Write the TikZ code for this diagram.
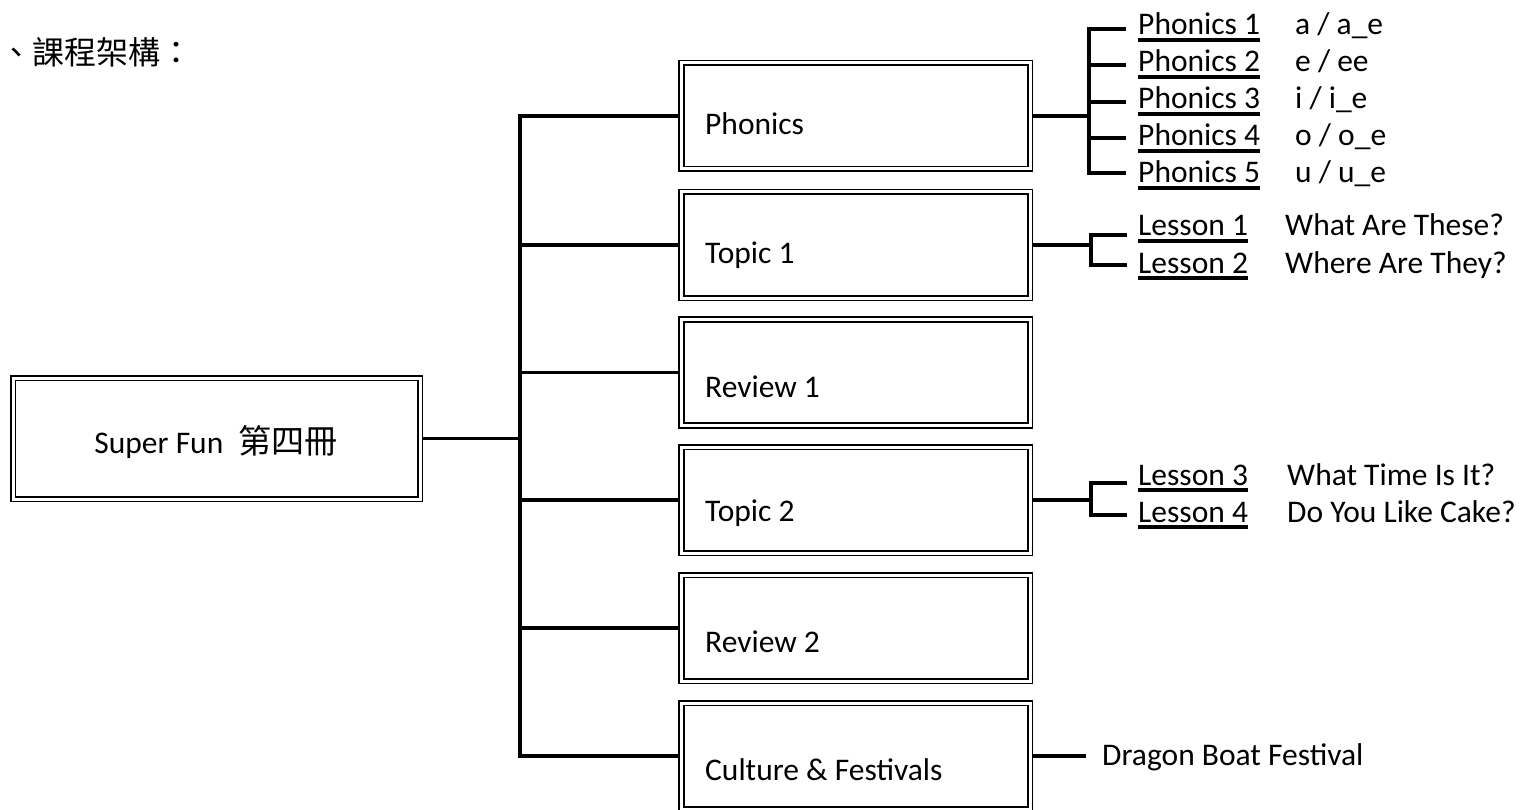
\documentclass[tikz,border=0pt]{standalone}
\usepackage{fontspec}
\setmainfont{Carlito}
\newfontfamily\cjk[Scale=1.05]{Noto Sans CJK TC}
\newcommand\ulx[1]{\setbox0\hbox{#1}\rlap{\vrule height -3.2pt depth 6.8pt width \wd0}\box0}
\begin{document}
\begin{tikzpicture}[x=1pt,y=-1pt,
  font=\fontsize{31.5}{38}\selectfont,
  box/.style={draw, double, double distance=3pt, line width=1.8pt,
    minimum width=348.5pt, minimum height=106pt, inner sep=0pt, outer sep=3.3pt},
  rootbox/.style={box, minimum width=407pt, minimum height=121pt},
  conn/.style={line width=3.6pt},
  txt/.style={inner sep=0pt, anchor=base west}]
\useasboundingbox (0,0) rectangle (1520,810);

% title
\node[txt] (title) at (0,65) {\fontsize{30.5}{38}\selectfont\cjk 、課程架構：};

% root
\node[rootbox] (root) at (216.5,438.5) {};
\node[inner sep=0pt, anchor=base] (roottxt) at (216,453) {Super Fun\hspace{15pt}{\cjk 第四冊}};

% boxes
\node[box] (b1) at (855.75,116) {};
\node[box] (b2) at (855.75,245) {};
\node[box] (b3) at (855.75,372.5) {};
\node[box] (b4) at (855.75,500) {};
\node[box] (b5) at (855.75,628) {};
\node[box] (b6) at (855.75,756) {};

\node[txt] (t1) at (705,135) {Phonics};
\node[txt] (t2) at (705,264) {Topic 1};
\node[txt] (t3) at (705,397) {Review 1};
\node[txt] (t4) at (705,521) {Topic 2};
\node[txt] (t5) at (705,652) {Review 2};
\node[txt] (t6) at (705,780) {Culture \& Festivals};

% trunk
\coordinate (tk) at (520,0);
\draw[conn] (root.east) -- (root.east -| tk);
\draw[conn] (b1.west) -- (tk |- b1.west) -- (tk |- b6.west) -- (b6.west);
\foreach \i in {2,3,4,5} \draw[conn] (tk |- b\i.west) -- (b\i.west);

% phonics bracket
\coordinate (px) at (1089,0);
\coordinate (pe1) at (1126,29);
\coordinate (pe2) at (1126,65);
\coordinate (pe3) at (1126,102);
\coordinate (pe4) at (1126,138);
\coordinate (pe5) at (1126,173);
\draw[conn] (b1.east) -- (b1.east -| px);
\draw[conn] (pe1) -- (px |- pe1) -- (px |- pe5) -- (pe5);
\foreach \i in {2,3,4} \draw[conn] (px |- pe\i) -- (pe\i);

\node[txt] (ph1) at (1138,35) {\ulx{Phonics 1}};
\node[txt] (ph2) at (1138,72) {\ulx{Phonics 2}};
\node[txt] (ph3) at (1138,109) {\ulx{Phonics 3}};
\node[txt] (ph4) at (1138,146) {\ulx{Phonics 4}};
\node[txt] (ph5) at (1138,183) {\ulx{Phonics 5}};
\node[txt] (pv1) at (1295,35) {a / a\_e};
\node[txt] (pv2) at (1295,72) {e / ee};
\node[txt] (pv3) at (1295,109) {i / i\_e};
\node[txt] (pv4) at (1295,146) {o / o\_e};
\node[txt] (pv5) at (1295,183) {u / u\_e};

% topic 1 bracket
\coordinate (lx) at (1091,0);
\coordinate (le1) at (1127,235);
\coordinate (le2) at (1127,265);
\draw[conn] (b2.east) -- (b2.east -| lx);
\draw[conn] (le1) -- (lx |- le1) -- (lx |- le2) -- (le2);
\node[txt] (l1) at (1138,236) {\ulx{Lesson 1}};
\node[txt] (l2) at (1138,273) {\ulx{Lesson 2}};
\node[txt] (lv1) at (1285,236) {What Are These?};
\node[txt] (lv2) at (1285,273) {Where Are They?};

% topic 2 bracket
\coordinate (le3) at (1127,483);
\coordinate (le4) at (1127,515);
\draw[conn] (b4.east) -- (b4.east -| lx);
\draw[conn] (le3) -- (lx |- le3) -- (lx |- le4) -- (le4);
\node[txt] (l3) at (1138,485) {\ulx{Lesson 3}};
\node[txt] (l4) at (1138,522) {\ulx{Lesson 4}};
\node[txt] (lv3) at (1287,485) {What Time Is It?};
\node[txt] (lv4) at (1287,522) {Do You Like Cake?};

% culture
\coordinate (cx) at (1086,0);
\draw[conn] (b6.east) -- (b6.east -| cx);
\node[txt] (dbf) at (1102,765) {Dragon Boat Festival};
\end{tikzpicture}
\end{document}
